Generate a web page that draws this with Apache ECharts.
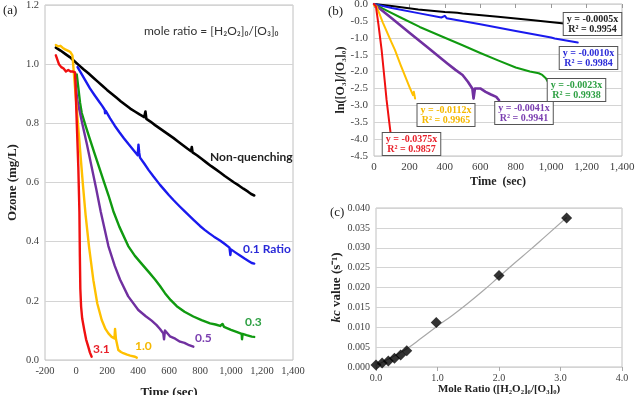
<!DOCTYPE html>
<html>
<head>
<meta charset="utf-8">
<script src="https://cdn.jsdelivr.net/npm/echarts@6/dist/echarts.min.js"></script>
<style>
html, body { margin: 0; padding: 0; background: #fff; }
#chart { width: 635px; height: 395px; }
</style>
</head>
<body>
<div id="chart"></div>
<script>
// (a) ozone decay, [time sec, ozone mg/L]
var ozNonQuench = [[-130,1.056],[-100,1.046],[-70,1.035],[-40,1.024],[-10,1.01],[20,0.996],[50,0.982],[80,0.969],[110,0.955],[140,0.941],[170,0.927],[200,0.913],[230,0.9],[260,0.887],[290,0.874],[320,0.862],[350,0.85],[380,0.84],[410,0.83],[440,0.821],[448,0.84],[454,0.815],[480,0.806],[510,0.794],[540,0.783],[570,0.772],[600,0.761],[630,0.75],[660,0.738],[690,0.726],[720,0.714],[742,0.706],[747,0.72],[752,0.702],[780,0.692],[810,0.68],[840,0.668],[870,0.656],[900,0.645],[930,0.634],[960,0.622],[990,0.611],[1020,0.6],[1050,0.59],[1080,0.579],[1110,0.569],[1130,0.561],[1150,0.556]];
var ozRatio01 = [[10,0.99],[30,0.972],[60,0.945],[90,0.918],[120,0.895],[144,0.877],[170,0.858],[185,0.846],[188,0.834],[192,0.842],[220,0.817],[250,0.792],[280,0.77],[310,0.749],[340,0.729],[370,0.71],[398,0.692],[403,0.728],[408,0.7],[413,0.684],[440,0.664],[470,0.641],[500,0.62],[542,0.592],[570,0.575],[600,0.557],[630,0.54],[671,0.518],[700,0.503],[730,0.488],[760,0.473],[800,0.453],[830,0.44],[860,0.428],[890,0.417],[929,0.404],[960,0.392],[990,0.38],[996,0.355],[1000,0.374],[1030,0.363],[1058,0.353],[1090,0.342],[1115,0.334],[1134,0.328],[1150,0.326]];
var ozRatio03 = [[5,0.965],[15,0.92],[26,0.87],[37,0.835],[60,0.795],[90,0.746],[120,0.698],[150,0.65],[176,0.609],[210,0.556],[241,0.503],[280,0.45],[337,0.385],[380,0.352],[424,0.325],[470,0.297],[510,0.272],[542,0.25],[574,0.226],[610,0.203],[650,0.182],[700,0.163],[757,0.147],[810,0.135],[865,0.124],[900,0.12],[930,0.115],[945,0.122],[955,0.112],[1000,0.102],[1040,0.094],[1069,0.088],[1071,0.07],[1075,0.088],[1100,0.084],[1134,0.079],[1150,0.078]];
var ozRatio05 = [[-8,0.96],[8,0.88],[40,0.8],[70,0.73],[100,0.655],[130,0.58],[160,0.5],[209,0.385],[250,0.318],[284,0.272],[337,0.215],[402,0.169],[450,0.148],[488,0.133],[520,0.118],[542,0.105],[563,0.09],[568,0.07],[574,0.1],[606,0.08],[640,0.072],[671,0.062],[700,0.058],[730,0.05],[757,0.045]];
var ozRatio10 = [[-130,1.065],[-115,1.06],[-100,1.062],[-85,1.055],[-70,1.05],[-60,1.053],[-50,1.045],[-35,1.04],[-23,1.03],[0,0.88],[45,0.59],[62,0.49],[84,0.383],[112,0.27],[137,0.192],[166,0.135],[190,0.105],[209,0.09],[230,0.078],[248,0.073],[252,0.105],[258,0.07],[273,0.034],[290,0.027],[305,0.023],[330,0.018],[350,0.015],[381,0.011],[392,0.008]];
var ozRatio31 = [[-130,1.03],[-120,1.025],[-110,1.0],[-95,0.99],[-80,0.985],[-65,0.975],[-50,0.98],[-35,0.975],[-20,0.975],[-6,0.972],[5,0.8],[15,0.65],[22,0.5],[25,0.35],[28,0.24],[33,0.18],[40,0.14],[54,0.1],[65,0.07],[79,0.045],[90,0.025],[101,0.011]];

// (b) ln([O3]/[O3]0) vs time
var lnNonQuench = [[0,0],[100,-0.06],[250,-0.16],[400,-0.24],[450,-0.25],[460,-0.22],[470,-0.26],[500,-0.28],[700,-0.38],[900,-0.48],[1060,-0.57],[1150,-0.62]];
var lnRatio01 = [[0,0],[100,-0.12],[250,-0.27],[380,-0.4],[400,-0.35],[410,-0.42],[600,-0.6],[800,-0.8],[1000,-0.99],[1020,-1.02],[1150,-1.14]];
var lnRatio03 = [[0,0],[50,-0.14],[150,-0.4],[258,-0.68],[400,-1.0],[500,-1.22],[600,-1.45],[700,-1.67],[800,-1.88],[880,-2.0],[930,-2.05],[950,-2.1],[970,-2.2],[986,-2.35]];
var lnRatio05 = [[0,0],[100,-0.42],[200,-0.85],[300,-1.27],[414,-1.76],[460,-1.95],[500,-2.1],[530,-2.3],[555,-2.5],[562,-2.8],[570,-2.5],[600,-2.5],[630,-2.6],[660,-2.68],[690,-2.75],[706,-2.85]];
var lnRatio10 = [[0,-0.05],[15,-0.08],[50,-0.55],[100,-1.15],[118,-1.36],[150,-1.8],[200,-2.45],[220,-2.7],[225,-2.6],[232,-2.8]];
var lnRatio31 = [[0,0],[11,-0.08],[25,-0.6],[43,-1.36],[60,-2.25],[71,-2.84],[85,-3.45],[100,-4.1]];

// (c) kc value vs mole ratio
var moleRatio = [0, 0.1, 0.2, 0.3, 0.4, 0.5, 0.98, 2.0, 3.1];
var kcValue = [0.0005, 0.0010, 0.0015, 0.0022, 0.0030, 0.0041, 0.0112, 0.0230, 0.0375];
var fitRatio = [0, 0.25, 0.5, 0.75, 1.0, 1.25, 1.5, 1.75, 2.0, 2.25, 2.5, 2.75, 3.1];
var fitKc = [0.0004, 0.0024, 0.0046, 0.0074, 0.0103, 0.0131, 0.0161, 0.0193, 0.0227, 0.0261, 0.0294, 0.0328, 0.0376];

// labels
var labelsA = ['Non-quenching', '0.1 Ratio', '0.3', '0.5', '1.0', '3.1'];
var fitLabelsB = [
    ['y = -0.0005x', 'R² = 0.9954'],
    ['y = -0.0010x', 'R² = 0.9984'],
    ['y = -0.0023x', 'R² = 0.9938'],
    ['y = -0.0041x', 'R² = 0.9941'],
    ['y = -0.0112x', 'R² = 0.9965'],
    ['y = -0.0375x', 'R² = 0.9857']
];

var colors = ['#000000', '#1a1aee', '#109a10', '#7030a0', '#ffc000', '#f01010'];
var labelColors = ['#222222', '#2a2ad8', '#2ea043', '#7a3eb0', '#f5b800', '#e8202a'];
var SERIF = 'Liberation Serif';

var comma = function (v) { return v.toLocaleString('en-US'); };

var lineSeries = function (data, color, xi, yi, w) {
    return {
        type: 'line',
        xAxisIndex: xi,
        yAxisIndex: yi,
        data: data,
        showSymbol: false,
        symbol: 'none',
        lineStyle: { color: color, width: w, join: 'round', cap: 'round' },
        itemStyle: { color: color },
        silent: true
    };
};

var boxText = function (i, left, top, w) {
    return {
        type: 'text',
        z: 100,
        x: left + w / 2,
        y: top,
        style: {
            text: fitLabelsB[i].join('\n'),
            fill: labelColors[i],
            font: 'bold 10px ' + SERIF,
            align: 'center',
            lineHeight: 10,
            backgroundColor: '#fff',
            borderColor: '#555',
            borderWidth: 1,
            padding: [1, 3, 1, 3]
        }
    };
};

var plainText = function (text, left, top, font, fill) {
    return {
        type: 'text', z: 100, x: left, y: top,
        style: { text: text, font: font, fill: fill }
    };
};

var chart = echarts.init(document.getElementById('chart'), null, { renderer: 'canvas' });

var axisLbl = function (size, fmt) {
    return { fontFamily: SERIF, fontSize: size, color: '#404040', margin: 6, formatter: fmt };
};
var nameStyle = function (size) {
    return { fontFamily: SERIF, fontWeight: 'bold', fontSize: size, color: '#222' };
};
var split = { show: true, lineStyle: { color: '#d4d4d4', width: 1 } };
var gridBox = function (left, top, width, height) {
    return {
        left: left, top: top, width: width, height: height,
        outerBoundsMode: 'none', containLabel: false,
        show: true, borderColor: '#c0c0c0', borderWidth: 1
    };
};

var option = {
    animation: false,
    backgroundColor: '#fff',
    grid: [
        gridBox(45, 5, 248, 355),
        gridBox(374, 4, 248, 152),
        gridBox(376, 208, 246, 159)
    ],
    xAxis: [
        {
            gridIndex: 0, type: 'value', min: -200, max: 1400, interval: 200,
            axisLine: { show: false }, axisTick: { show: false }, splitLine: { show: false },
            axisLabel: axisLbl(10.5, comma),
            name: 'Time (sec)', nameLocation: 'middle', nameGap: 26, nameTextStyle: nameStyle(13)
        },
        {
            gridIndex: 1, type: 'value', min: 0, max: 1400, interval: 200, position: 'bottom',
            axisLine: { show: false }, axisTick: { show: false }, splitLine: { show: false },
            axisLabel: axisLbl(11, comma),
            name: 'Time  (sec)', nameLocation: 'middle', nameGap: 20, nameTextStyle: nameStyle(12)
        },
        {
            gridIndex: 1, type: 'value', min: 0, max: 1400, interval: 200, position: 'top',
            axisLine: { show: false }, splitLine: { show: false },
            axisTick: { show: true, inside: true, length: 4, lineStyle: { color: '#999' } },
            axisLabel: { show: false }
        },
        {
            gridIndex: 2, type: 'value', min: 0, max: 4, interval: 1,
            axisLine: { show: false }, splitLine: { show: false },
            axisTick: { show: true, length: 4, lineStyle: { color: '#aaa' } },
            axisLabel: axisLbl(10, function (v) { return v.toFixed(1); }),
            name: 'Mole Ratio ([H₂O₂]₀/[O₃]₀)', nameLocation: 'middle', nameGap: 15, nameTextStyle: nameStyle(11)
        }
    ],
    yAxis: [
        {
            gridIndex: 0, type: 'value', min: 0, max: 1.2, interval: 0.2,
            axisLine: { show: false }, axisTick: { show: false }, splitLine: split,
            axisLabel: axisLbl(10.5, function (v) { return v.toFixed(1); }),
            name: 'Ozone (mg/L)', nameLocation: 'middle', nameGap: 26, nameTextStyle: nameStyle(13)
        },
        {
            gridIndex: 1, type: 'value', min: -4.5, max: 0, interval: 0.5,
            axisLine: { show: false }, axisTick: { show: false }, splitLine: split,
            axisLabel: axisLbl(11, function (v) { return v.toFixed(1); }),
            name: 'ln([O₃]/[O₃]₀)', nameLocation: 'middle', nameGap: 27, nameTextStyle: nameStyle(12)
        },
        {
            gridIndex: 2, type: 'value', min: 0, max: 0.04, interval: 0.005,
            axisLine: { show: false }, axisTick: { show: false }, splitLine: split,
            axisLabel: axisLbl(10, function (v) { return v.toFixed(3); }),
            name: '{i|kc} value (s⁻¹)', nameLocation: 'middle', nameGap: 32,
            nameTextStyle: {
                fontFamily: SERIF, fontWeight: 'bold', fontSize: 13, color: '#222',
                rich: { i: { fontFamily: SERIF, fontWeight: 'bold', fontStyle: 'italic', fontSize: 13, color: '#222' } }
            }
        }
    ],
    series: [
        lineSeries(ozNonQuench, colors[0], 0, 0, 2.6),
        lineSeries(ozRatio01, colors[1], 0, 0, 2.4),
        lineSeries(ozRatio03, colors[2], 0, 0, 2.4),
        lineSeries(ozRatio05, colors[3], 0, 0, 2.4),
        lineSeries(ozRatio10, colors[4], 0, 0, 2.4),
        lineSeries(ozRatio31, colors[5], 0, 0, 2.4),
        lineSeries(lnNonQuench, colors[0], 1, 1, 2),
        lineSeries(lnRatio01, colors[1], 1, 1, 2),
        lineSeries(lnRatio03, colors[2], 1, 1, 2),
        lineSeries(lnRatio05, colors[3], 1, 1, 2.6),
        lineSeries(lnRatio10, colors[4], 1, 1, 2),
        lineSeries(lnRatio31, colors[5], 1, 1, 2),
        {
            type: 'line', xAxisIndex: 3, yAxisIndex: 2, smooth: true, showSymbol: false, symbol: 'none',
            data: fitRatio.map(function (x, i) { return [x, fitKc[i]]; }),
            lineStyle: { color: '#a8a8a8', width: 1.2 }, silent: true
        },
        {
            type: 'scatter', xAxisIndex: 3, yAxisIndex: 2, symbol: 'diamond', symbolSize: 11,
            data: moleRatio.map(function (x, i) { return [x, kcValue[i]]; }),
            itemStyle: { color: '#000' }, silent: true, z: 5
        }
    ],
    graphic: [
        plainText('(a)', 3, 4, '13px ' + SERIF, '#222'),
        plainText('(b)', 328, 5, '13px ' + SERIF, '#222'),
        plainText('(c)', 330, 206, '13px ' + SERIF, '#222'),
        plainText('mole ratio = [H₂O₂]₀/[O₃]₀', 144, 25, '12px Lato', '#333'),
        plainText(labelsA[0], 210, 151, 'bold 12px Lato', labelColors[0]),
        plainText(labelsA[1], 243, 243, 'bold 12px Lato', labelColors[1]),
        plainText(labelsA[2], 245, 316, 'bold 12px Lato', labelColors[2]),
        plainText(labelsA[3], 195, 332, 'bold 12px Lato', labelColors[3]),
        plainText(labelsA[4], 135, 340, 'bold 12px Lato', labelColors[4]),
        plainText(labelsA[5], 93, 343, 'bold 12px Lato', labelColors[5]),
        boxText(0, 564, 13, 57),
        boxText(1, 561, 47, 55),
        boxText(2, 551, 79, 51),
        boxText(3, 499, 102, 50),
        boxText(4, 420, 104, 52),
        boxText(5, 385, 133, 53)
    ]
};
chart.setOption(option);
</script>
</body>
</html>
